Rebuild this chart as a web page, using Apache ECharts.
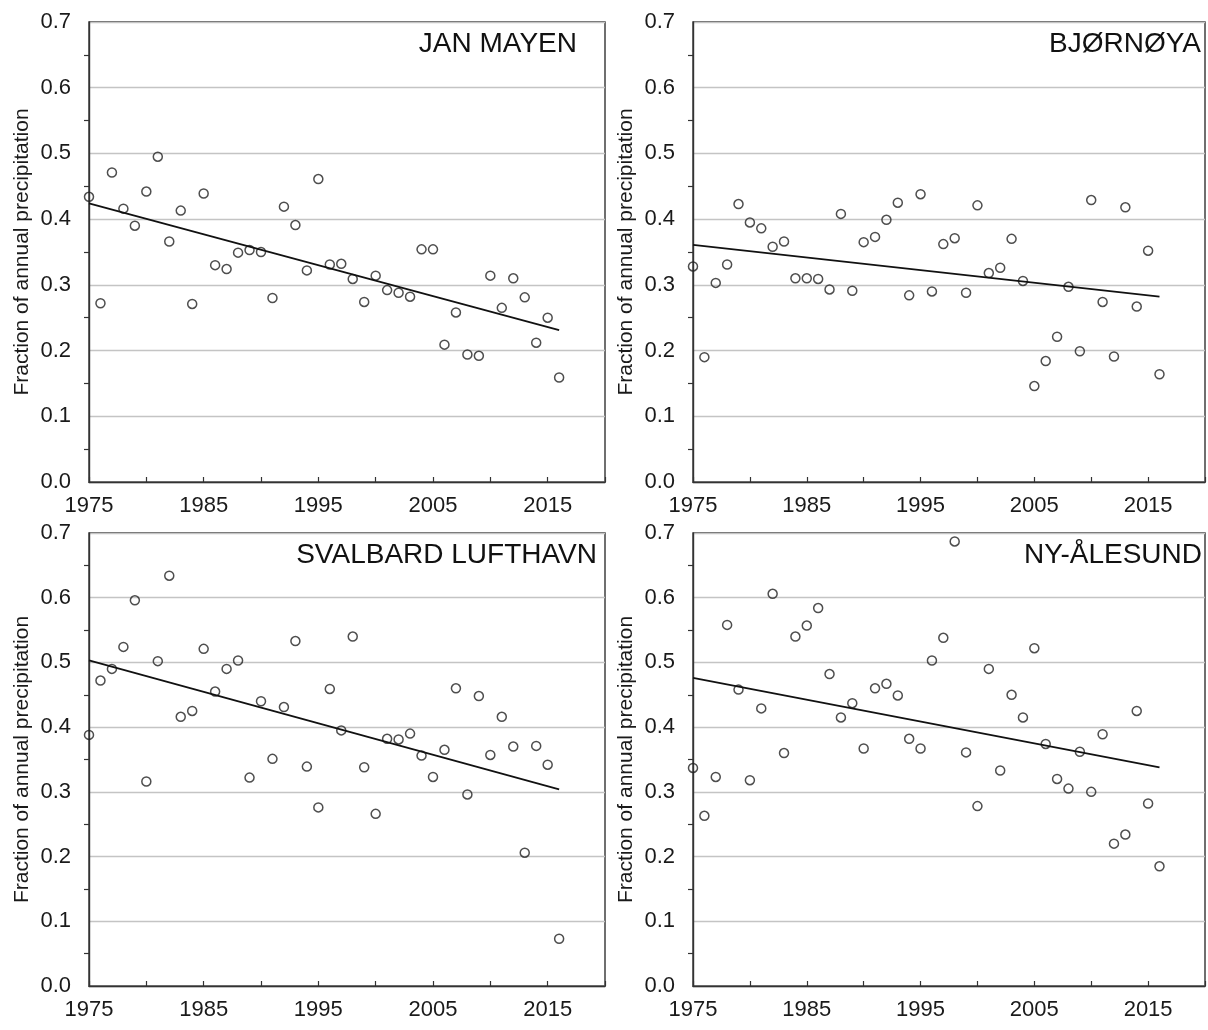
<!DOCTYPE html>
<html>
<head>
<meta charset="utf-8">
<script src="https://cdn.jsdelivr.net/npm/echarts@6/dist/echarts.min.js"></script>
<style>
html,body{margin:0;padding:0;background:#fff;}
#chart{width:1208px;height:1030px;}
</style>
</head>
<body>
<div id="chart"></div>
<script>
var years = [1975,1976,1977,1978,1979,1980,1981,1982,1983,1984,1985,1986,1987,1988,1989,1990,1991,1992,1993,1994,1995,1996,1997,1998,1999,2000,2001,2002,2003,2004,2005,2006,2007,2008,2009,2010,2011,2012,2013,2014,2015,2016];

var stationNames = ["JAN MAYEN", "BJØRNØYA", "SVALBARD LUFTHAVN", "NY-ÅLESUND"];

var janMayen = [0.434,0.272,0.471,0.416,0.390,0.442,0.495,0.366,0.413,0.271,0.439,0.330,0.324,0.349,0.353,0.350,0.280,0.419,0.391,0.322,0.461,0.331,0.332,0.309,0.274,0.314,0.292,0.288,0.282,0.354,0.354,0.209,0.258,0.194,0.192,0.314,0.265,0.310,0.281,0.212,0.250,0.159];

var bjornoya = [0.328,0.190,0.303,0.331,0.423,0.395,0.386,0.358,0.366,0.310,0.310,0.309,0.293,0.408,0.291,0.365,0.373,0.399,0.425,0.284,0.438,0.290,0.362,0.371,0.288,0.421,0.318,0.326,0.370,0.306,0.146,0.184,0.221,0.297,0.199,0.429,0.274,0.191,0.418,0.267,0.352,0.164];

var svalbard = [0.388,0.472,0.490,0.524,0.596,0.316,0.502,0.634,0.416,0.425,0.521,0.455,0.490,0.503,0.322,0.440,0.351,0.431,0.533,0.339,0.276,0.459,0.395,0.540,0.338,0.266,0.382,0.381,0.390,0.356,0.323,0.365,0.460,0.296,0.448,0.357,0.416,0.370,0.206,0.371,0.342,0.073];

var nyAlesund = [0.337,0.263,0.323,0.558,0.458,0.318,0.429,0.606,0.360,0.540,0.557,0.584,0.482,0.415,0.437,0.367,0.460,0.467,0.449,0.382,0.367,0.503,0.538,0.687,0.361,0.278,0.490,0.333,0.450,0.415,0.522,0.374,0.320,0.305,0.362,0.300,0.389,0.220,0.234,0.425,0.282,0.185];

// trend line end values [value at 1975, value at 2016]
var trendYears = [1975, 2016];
var trendJanMayen = [0.424, 0.231];
var trendBjornoya = [0.361, 0.282];
var trendSvalbard = [0.503, 0.304];
var trendNyAlesund = [0.476, 0.338];

var yTicks = [0, 0.1, 0.2, 0.3, 0.4, 0.5, 0.6, 0.7];
var xLabelYears = [1975, 1985, 1995, 2005, 2015];

var allSeries = [janMayen, bjornoya, svalbard, nyAlesund];
var allTrends = [trendJanMayen, trendBjornoya, trendSvalbard, trendNyAlesund];

var FONT = "'Liberation Sans', Arial, Helvetica, sans-serif";
var grids = [
  {left: 89, top: 22, width: 516, height: 460},
  {left: 693, top: 22, width: 515, height: 460},
  {left: 89, top: 533, width: 516, height: 453},
  {left: 693, top: 533, width: 515, height: 453}
];

var chart = echarts.init(document.getElementById('chart'), null, {renderer: 'canvas'});

var option = {
  backgroundColor: '#ffffff',
  animation: false,
  grid: grids.map(function (g) {
    return Object.assign({show: true, borderColor: '#333', borderWidth: 1.4, backgroundColor: 'transparent', containLabel: false}, g);
  }),
  xAxis: grids.map(function (g, i) {
    return {
      type: 'value', gridIndex: i, min: 1975, max: 2020, interval: 5,
      axisLine: {show: true, onZero: false, lineStyle: {color: '#333', width: 1.4}},
      axisTick: {show: true, inside: true, length: 5, lineStyle: {color: '#333', width: 1.2}},
      axisLabel: {
        show: true, margin: 13, fontSize: 22, color: '#1a1a1a', fontFamily: FONT,
        formatter: function (v) { return xLabelYears.indexOf(v) >= 0 ? String(v) : ''; }
      },
      splitLine: {show: false}
    };
  }),
  yAxis: grids.map(function (g, i) {
    return {
      type: 'value', gridIndex: i, min: yTicks[0], max: yTicks[yTicks.length - 1], interval: 0.1,
      name: 'Fraction of annual precipitation', nameLocation: 'middle', nameGap: 56,
      nameTextStyle: {fontSize: 21, color: '#1a1a1a', fontFamily: FONT},
      axisLine: {show: true, lineStyle: {color: '#333', width: 1.4}},
      axisTick: {show: false},
      minorTick: {show: true, splitNumber: 2, length: 5, lineStyle: {color: '#333', width: 1.2}},
      minorSplitLine: {show: false},
      axisLabel: {
        show: true, margin: 18, fontSize: 22, color: '#1a1a1a', fontFamily: FONT,
        formatter: function (v) { return v.toFixed(1); }
      },
      splitLine: {show: true, lineStyle: {color: '#c4c4c4', width: 1.4}}
    };
  }),
  graphic: grids.map(function (g, i) {
    var rightX = [577, 1201, 597, 1202][i];
    var cy = [44, 44, 555, 555][i];
    return {
      type: 'text', x: rightX, y: cy, z: 100,
      style: {text: stationNames[i], fontSize: 28, fontFamily: FONT, fill: '#111', align: 'right', verticalAlign: 'middle'}
    };
  }),
  series: []
};

allSeries.forEach(function (vals, i) {
  option.series.push({
    type: 'scatter', xAxisIndex: i, yAxisIndex: i,
    data: years.map(function (y, k) { return [y, vals[k]]; }),
    symbol: 'circle', symbolSize: 9,
    itemStyle: {color: 'rgba(255,255,255,0)', borderColor: '#222', borderWidth: 1.5},
    z: 3
  });
  option.series.push({
    type: 'line', xAxisIndex: i, yAxisIndex: i,
    data: trendYears.map(function (y, k) { return [y, allTrends[i][k]]; }),
    symbol: 'none', lineStyle: {color: '#111', width: 1.8}, z: 4
  });
});

chart.setOption(option);
</script>
</body>
</html>
